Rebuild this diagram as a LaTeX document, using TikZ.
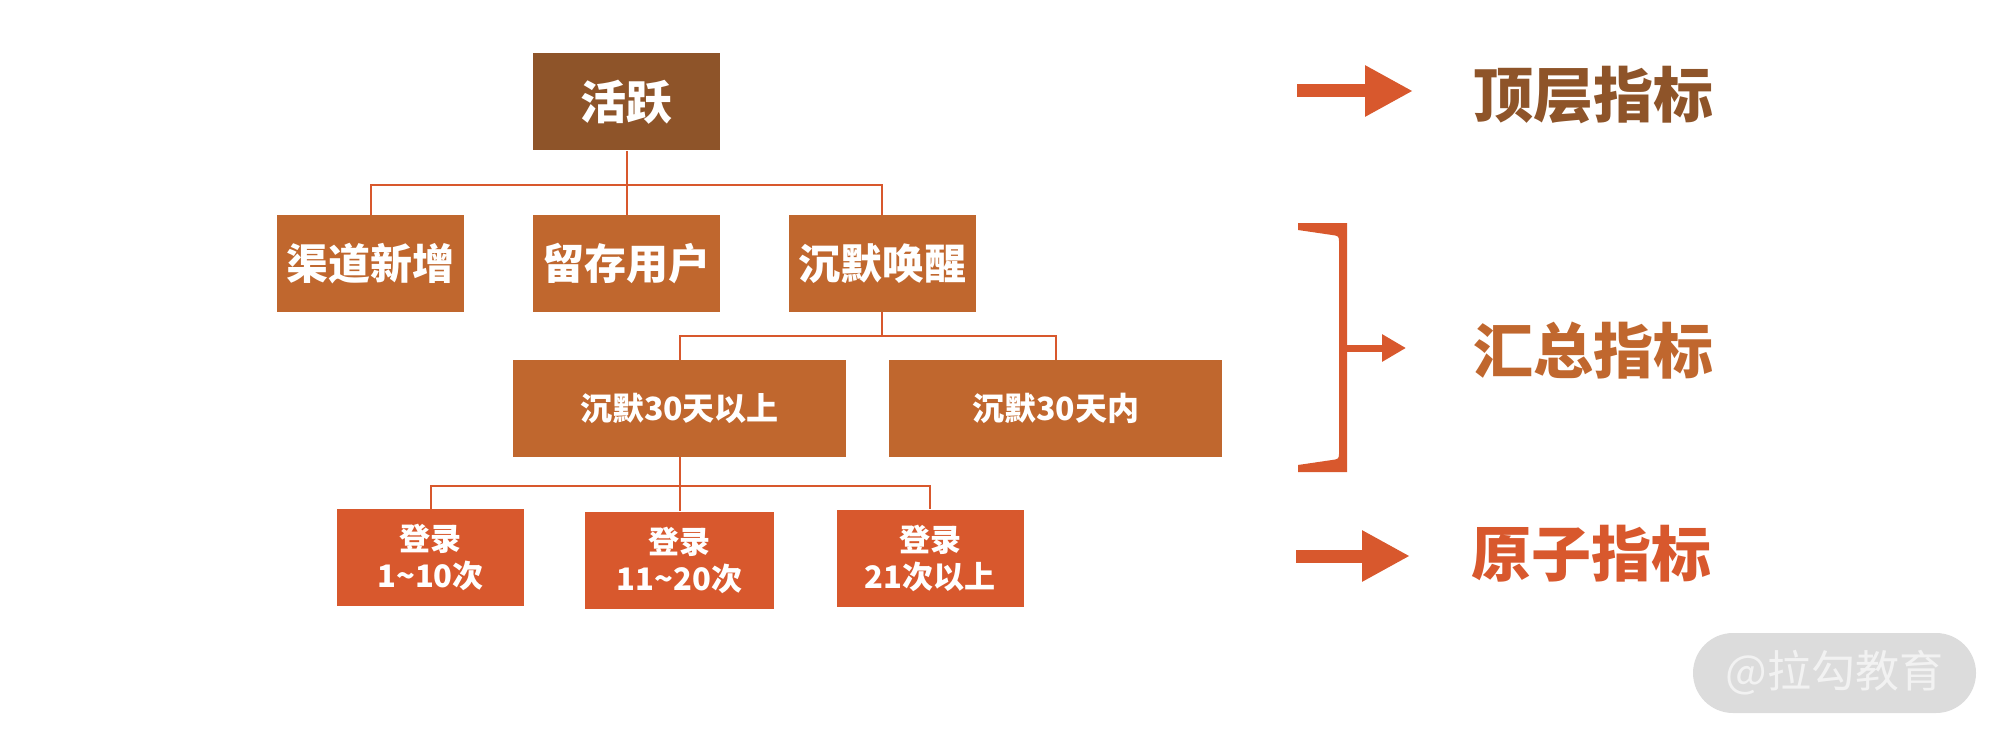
\documentclass[tikz,border=0pt]{standalone}
\usepackage{fontspec}
\setmainfont{Noto Sans CJK SC}
\usetikzlibrary{arrows.meta}
\definecolor{topbrown}{HTML}{8E5429}
\definecolor{midrust}{HTML}{C0672E}
\definecolor{lowflame}{HTML}{D8582D}
\definecolor{wmgray}{HTML}{DCDCDC}
\begin{document}
\begin{tikzpicture}[x=0.5pt,y=-0.5pt,
    box/.style={rectangle,inner sep=0pt,text=white,font=\bfseries,align=center,
      minimum width=93.5pt,minimum height=48.5pt},
    wide/.style={box,minimum width=166.5pt,font=\bfseries\fontsize{16}{19}\selectfont},
    link/.style={draw=lowflame,line width=1pt},
    level/.style={font=\bfseries\fontsize{30}{34}\selectfont},
    fatarrow/.style={draw=lowflame,line width=6.5pt,-{Triangle[length=24pt,width=24pt]}}]
  \useasboundingbox (0,0) rectangle (2002,738);
  % tree
  \node[box,fill=topbrown,font=\bfseries\fontsize{23}{26}\selectfont] (top) at (626.5,102) {活跃};
  \node[box,fill=midrust,font=\bfseries\fontsize{21}{24}\selectfont] (a1) at (370.5,263.5) {渠道新增};
  \node[box,fill=midrust,font=\bfseries\fontsize{21}{24}\selectfont] (a2) at (626.5,263.5) {留存用户};
  \node[box,fill=midrust,font=\bfseries\fontsize{21}{24}\selectfont] (a3) at (882,263.5) {沉默唤醒};
  \node[wide,fill=midrust] (b1) at (679.5,408.5) {沉默30天以上};
  \node[wide,fill=midrust] (b2) at (1055.5,408.5) {沉默30天内};
  \node[box,fill=lowflame,font=\bfseries\fontsize{15.5}{18.5}\selectfont] (c1) at (430.5,557.5) {登录\\1\textasciitilde10次};
  \node[box,fill=lowflame,font=\bfseries\fontsize{15.5}{18.5}\selectfont,minimum width=94.5pt] (c2) at (679.5,560) {登录\\11\textasciitilde20次};
  \node[box,fill=lowflame,font=\bfseries\fontsize{15.5}{18.5}\selectfont] (c3) at (930,558) {登录\\21次以上};
  \begin{scope}[link]
    \draw (top.south) -- ++(0,34) coordinate (j1);
    \draw (j1) -| (a1.north);
    \draw (j1) -- (a2.north);
    \draw (j1) -| (a3.north);
    \draw (a3.south) -- ++(0,24) coordinate (j2);
    \draw (j2) -| (b1.north);
    \draw (j2) -| (b2.north);
    \draw (b1.south) -- ++(0,29) coordinate (j3);
    \draw (j3) -| (c1.north);
    \draw (j3) -- (c2.north);
    \draw (j3) -| (c3.north);
  \end{scope}
  % legend
  \coordinate (p1) at (1297,91);
  \coordinate (p1e) at (1413,91);
  \coordinate (p2) at (1347,348);
  \coordinate (p2e) at (1406,348);
  \coordinate (p3) at (1296,556);
  \coordinate (p3e) at (1410,556);
  \draw[fatarrow] (p1) -- (p1e);
  \draw[fatarrow,line width=3.5pt,-{Triangle[length=12pt,width=13pt]}] (p2) -- (p2e);
  \draw[fatarrow] (p3) -- (p3e);
  \fill[lowflame] (1298,223) -- (1347,223) -- (1347,472) -- (1298,472) -- (1298,465)
    -- (1332,460) .. controls (1339,459) .. (1339,452) -- (1339,243)
    .. controls (1339,236) .. (1332,235) -- (1298,230) -- cycle;
  \node[level,text=topbrown] (l1) at (1593,95) {顶层指标};
  \node[level,text=midrust] (l2) at (1593,351) {汇总指标};
  \node[level,text=lowflame] (l3) at (1591,554) {原子指标};
  % watermark
  \node[fill=wmgray,rounded corners=20pt,minimum width=141.5pt,minimum height=40pt,
    text=white!95!black,font=\fontsize{22}{24}\selectfont] (wm) at (1834.5,673) {@拉勾教育};
\end{tikzpicture}
\end{document}
